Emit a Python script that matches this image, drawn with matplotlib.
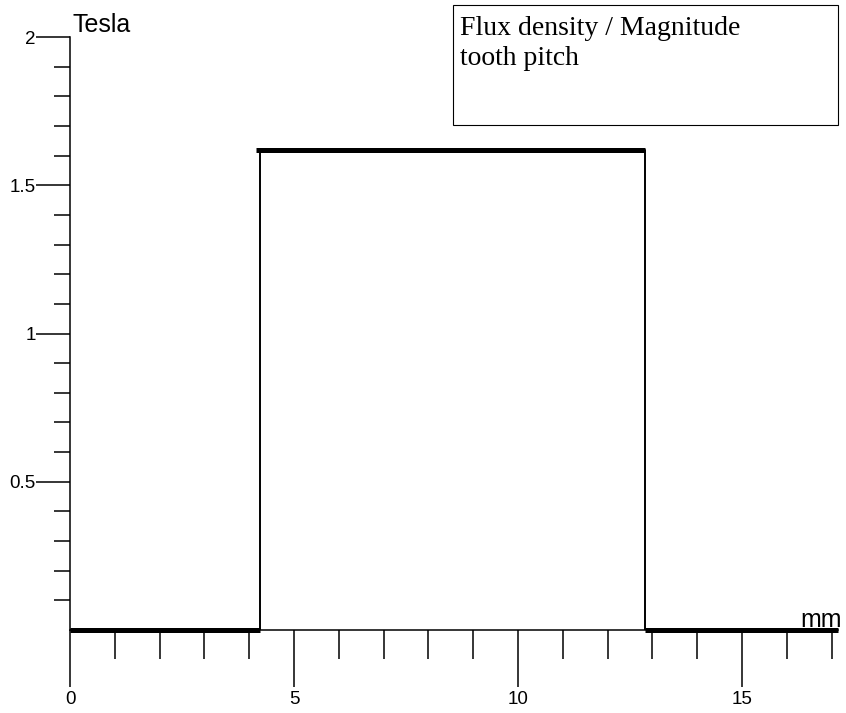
import numpy as np
import matplotlib
matplotlib.use("Agg")
import matplotlib.pyplot as plt
from matplotlib.patches import Rectangle
from matplotlib.ticker import FixedLocator

plt.rcParams["font.family"] = ["Liberation Sans", "DejaVu Sans"]

# flux density along one tooth pitch
x_mm = [0.0, 4.24, 4.24, 12.83, 12.83, 17.14]
b_tesla = [0.0, 0.0, 1.62, 1.62, 0.0, 0.0]

# flat parts drawn heavy
flat_segments = [(0, 1), (2, 3), (4, 5)]

x_major = [0, 5, 10, 15]
x_minor = [1, 2, 3, 4, 6, 7, 8, 9, 11, 12, 13, 14, 16, 17]
y_major = [0.5, 1, 1.5, 2]
y_minor = [0.1, 0.2, 0.3, 0.4, 0.6, 0.7, 0.8, 0.9,
           1.1, 1.2, 1.3, 1.4, 1.6, 1.7, 1.8, 1.9]

W, H = 846, 713
fig = plt.figure(figsize=(W / 100, H / 100), dpi=100)
# axes: x=0 at px 70, x=17.14 at px 838; y=0 at px 630, y=2 at px 37
ax = fig.add_axes([70 / W, (H - 630) / H, 768 / W, 593 / H])
ax.set_xlim(0, 17.14)
ax.set_ylim(0, 2)

ax.plot(x_mm, b_tesla, color="black", lw=1.4, solid_capstyle="butt")
for i, j in flat_segments:
    ax.plot([x_mm[i] - 0.1 if i == 2 else x_mm[i], x_mm[j]],
            [b_tesla[i], b_tesla[j]], color="black", lw=3.6,
            solid_capstyle="butt", clip_on=False)

for s in ["top", "right"]:
    ax.spines[s].set_visible(False)
for s in ["left", "bottom"]:
    ax.spines[s].set_linewidth(1.1)

ax.xaxis.set_major_locator(FixedLocator(x_major))
ax.xaxis.set_minor_locator(FixedLocator(x_minor))
ax.yaxis.set_major_locator(FixedLocator(y_major))
ax.yaxis.set_minor_locator(FixedLocator(y_minor))
ax.set_xticklabels([str(v) for v in x_major])
ax.set_yticklabels(["0.5", "1", "1.5", "2"])

ax.tick_params(axis="x", which="major", direction="out", length=41, width=1.1,
               pad=3, labelsize=13.5)
ax.tick_params(axis="x", which="minor", direction="out", length=21, width=1.1)
ax.tick_params(axis="y", which="major", direction="out", length=24.5, width=1.1,
               pad=0, labelsize=13.5)
ax.tick_params(axis="y", which="minor", direction="out", length=11.5, width=1.1)

fig.text(72 / W, 1 - 32 / H, "Tesla", fontsize=18, va="baseline", ha="left")
fig.text(842 / W, 1 - 627 / H, "mm", fontsize=18, va="baseline", ha="right")

fig.add_artist(Rectangle((453 / W, 1 - 125 / H), 385 / W, 120 / H,
                         transform=fig.transFigure, fill=False,
                         edgecolor="black", lw=0.8))
fig.text(460 / W, 1 - 35 / H, "Flux density / Magnitude",
         fontfamily="Liberation Serif", fontsize=20, va="baseline", ha="left")
fig.text(460 / W, 1 - 65 / H, "tooth pitch",
         fontfamily="Liberation Serif", fontsize=20, va="baseline", ha="left")

fig.savefig("out.png", dpi=100)
